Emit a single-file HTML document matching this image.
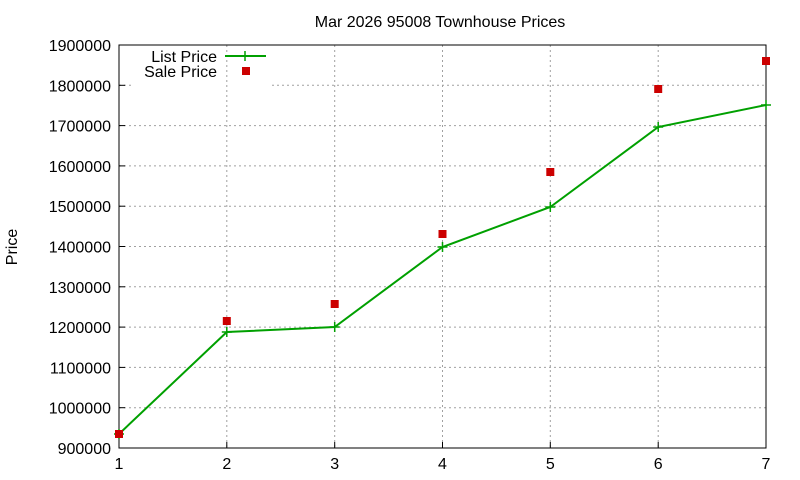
<!DOCTYPE html>
<html><head><style>body{margin:0;background:#fff}svg{display:block}text{font-family:"Liberation Sans",sans-serif;font-size:16px;fill:#000}</style></head>
<body>
<svg width="800" height="480" xmlns="http://www.w3.org/2000/svg">
<rect width="800" height="480" fill="#fff"/>
<g stroke="#a0a0a0" stroke-dasharray="2,3" stroke-width="1">
<line x1="119" x2="766" y1="407.7" y2="407.7"/><line x1="119" x2="766" y1="367.4" y2="367.4"/>
<line x1="119" x2="766" y1="327.1" y2="327.1"/><line x1="119" x2="766" y1="286.8" y2="286.8"/>
<line x1="119" x2="766" y1="246.5" y2="246.5"/><line x1="119" x2="766" y1="206.2" y2="206.2"/>
<line x1="119" x2="766" y1="165.9" y2="165.9"/><line x1="119" x2="766" y1="125.6" y2="125.6"/>
<line x1="272" x2="766" y1="85.3" y2="85.3"/><line x1="119" x2="134" y1="85.3" y2="85.3"/>
<line x1="226.8" x2="226.8" y1="45" y2="448"/><line x1="334.7" x2="334.7" y1="45" y2="448"/>
<line x1="442.5" x2="442.5" y1="45" y2="448"/><line x1="550.3" x2="550.3" y1="45" y2="448"/>
<line x1="658.2" x2="658.2" y1="45" y2="448"/>
</g>
<rect x="119" y="45" width="647" height="403" fill="none" stroke="#000" stroke-width="1"/>
<g stroke="#000"><line x1="119" x2="125" y1="407.7" y2="407.7"/><line x1="119" x2="125" y1="367.4" y2="367.4"/><line x1="119" x2="125" y1="327.1" y2="327.1"/><line x1="119" x2="125" y1="286.8" y2="286.8"/><line x1="119" x2="125" y1="246.5" y2="246.5"/><line x1="119" x2="125" y1="206.2" y2="206.2"/><line x1="119" x2="125" y1="165.9" y2="165.9"/><line x1="119" x2="125" y1="125.6" y2="125.6"/><line x1="119" x2="125" y1="85.3" y2="85.3"/>
<line x1="226.8" x2="226.8" y1="448" y2="442"/><line x1="334.7" x2="334.7" y1="448" y2="442"/><line x1="442.5" x2="442.5" y1="448" y2="442"/><line x1="550.3" x2="550.3" y1="448" y2="442"/><line x1="658.2" x2="658.2" y1="448" y2="442"/></g>
<g text-anchor="end">
<text x="111" y="454">900000</text><text x="111" y="413.7">1000000</text><text x="111" y="373.4">1100000</text><text x="111" y="333.1">1200000</text><text x="111" y="292.8">1300000</text><text x="111" y="252.5">1400000</text><text x="111" y="212.2">1500000</text><text x="111" y="171.9">1600000</text><text x="111" y="131.6">1700000</text><text x="111" y="91.3">1800000</text><text x="111" y="51">1900000</text>
</g>
<g text-anchor="middle">
<text x="119" y="469">1</text><text x="226.8" y="469">2</text><text x="334.7" y="469">3</text><text x="442.5" y="469">4</text><text x="550.3" y="469">5</text><text x="658.2" y="469">6</text><text x="766" y="469">7</text>
<text x="440" y="27">Mar 2026 95008 Townhouse Prices</text>
<text transform="translate(17,247) rotate(-90)">Price</text>
</g>
<text x="217" y="62" text-anchor="end">List Price</text>
<text x="217" y="77" text-anchor="end">Sale Price</text>
<line x1="225" x2="266" y1="56" y2="56" stroke="#00a000" stroke-width="2"/>
<path d="M245 51v10M240 56h10" stroke="#00a000" stroke-width="1.5"/>
<rect x="242" y="67" width="8" height="8" fill="#cc0000"/>
<polyline fill="none" stroke="#00a000" stroke-width="2" points="119,434 226.8,332 334.7,327 442.5,247 550.3,207 658.2,127 766,105"/>
<g stroke="#00a000" stroke-width="1.5">
<path d="M119 429v10M114 434h10M226.8 327v10M221.8 332h10M334.7 322v10M329.7 327h10M442.5 242v10M437.5 247h10M550.3 202v10M545.3 207h10M658.2 122v10M653.2 127h10M766 100v10M761 105h10"/>
</g>
<g fill="#cc0000">
<rect x="115" y="430" width="8" height="8"/><rect x="222.8" y="317" width="8" height="8"/><rect x="330.7" y="300" width="8" height="8"/><rect x="438.5" y="230" width="8" height="8"/><rect x="546.3" y="168" width="8" height="8"/><rect x="654.2" y="85" width="8" height="8"/><rect x="762" y="57" width="8" height="8"/>
</g>
</svg>
</body></html>
